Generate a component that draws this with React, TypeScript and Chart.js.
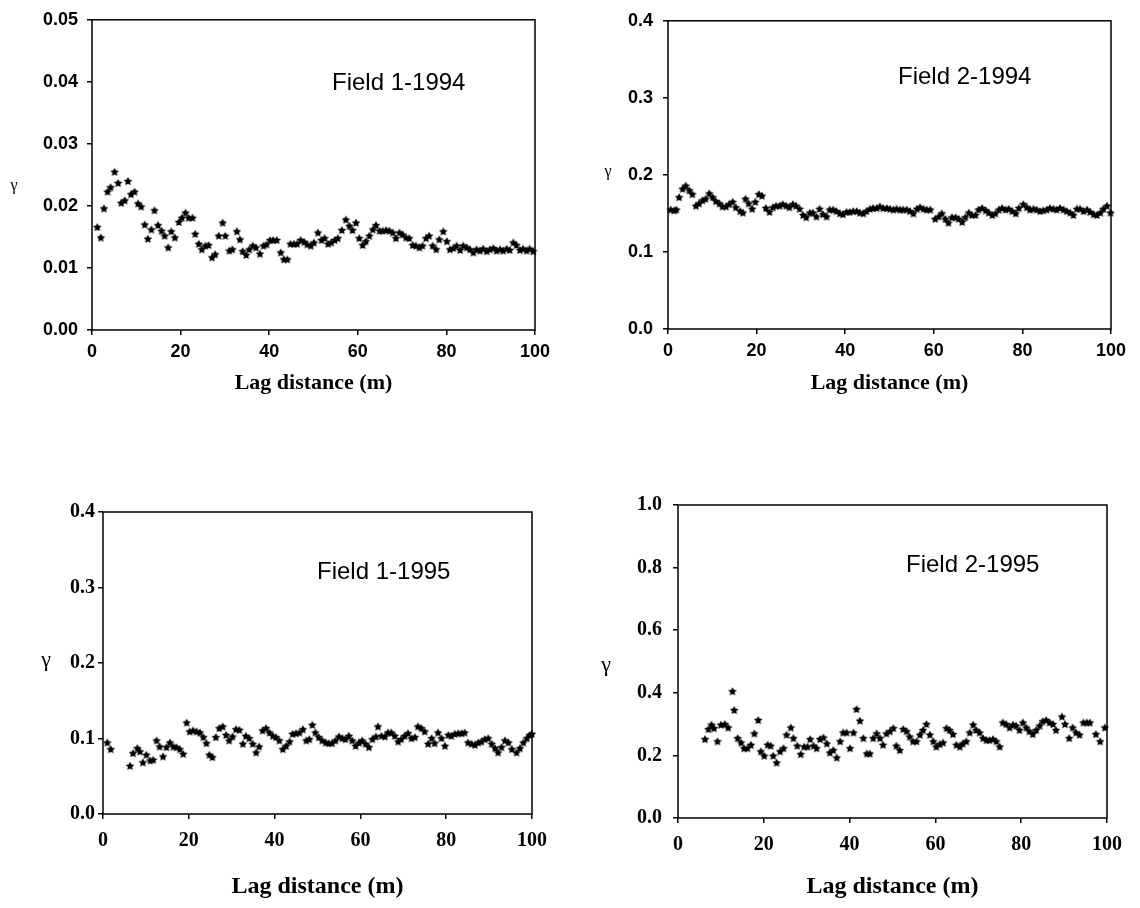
import React, { useEffect, useRef } from "react";
import { Chart, registerables } from "chart.js";

Chart.register(...registerables);

// ---------- DATA ----------
// Field 1-1994
const lag1 = [
  1.2, 2.0, 2.7, 3.5, 4.2, 5.1, 5.9, 6.6, 7.4, 8.1,
  8.8, 9.6, 10.4, 11.1, 11.9, 12.6, 13.4, 14.1, 14.9, 15.7,
  16.4, 17.2, 17.9, 18.7, 19.6, 20.3, 21.1, 21.8, 22.7, 23.3,
  24.1, 24.8, 25.6, 26.3, 27.1, 27.8, 28.6, 29.5, 30.1, 31.0,
  31.7, 32.7, 33.4, 34.0, 34.8, 35.5, 36.3, 37.0, 37.9, 38.7,
  39.4, 40.2, 40.9, 41.7, 42.6, 43.3, 44.1, 44.8, 45.6, 46.3,
  47.1, 47.9, 48.6, 49.4, 50.1, 51.0, 51.8, 52.5, 53.3, 54.0,
  54.8, 55.5, 56.4, 57.3, 58.1, 58.8, 59.6, 60.3, 61.1, 61.8,
  62.6, 63.4, 64.1, 64.9, 65.6, 66.4, 67.1, 67.9, 68.6, 69.4,
  70.1, 70.9, 71.6, 72.4, 73.1, 73.9, 74.6, 75.4, 76.1, 76.9,
  77.7, 78.4, 79.3, 80.1, 80.8, 81.6, 82.3, 83.1, 83.8, 84.6,
  85.3, 86.1, 86.8, 87.6, 88.3, 89.1, 89.8, 90.6, 91.3, 92.1,
  92.8, 93.6, 94.3, 95.1, 95.8, 96.6, 97.3, 98.1, 98.8, 99.6,
];
const gamma1 = [
  0.0166, 0.0149, 0.0196, 0.0223, 0.0230, 0.0255, 0.0237, 0.0205, 0.0209, 0.0240,
  0.0219, 0.0223, 0.0204, 0.0199, 0.0170, 0.0147, 0.0162, 0.0193, 0.0169, 0.0160,
  0.0152, 0.0133, 0.0159, 0.0149, 0.0174, 0.0181, 0.0189, 0.0181, 0.0181, 0.0155,
  0.0139, 0.0130, 0.0136, 0.0137, 0.0117, 0.0122, 0.0152, 0.0173, 0.0152, 0.0128,
  0.0130, 0.0159, 0.0146, 0.0127, 0.0121, 0.0130, 0.0136, 0.0133, 0.0123, 0.0136,
  0.0138, 0.0145, 0.0145, 0.0145, 0.0125, 0.0114, 0.0114, 0.0139, 0.0139, 0.0139,
  0.0145, 0.0142, 0.0138, 0.0136, 0.0141, 0.0157, 0.0145, 0.0148, 0.0139, 0.0141,
  0.0145, 0.0148, 0.0161, 0.0178, 0.0168, 0.0161, 0.0173, 0.0148, 0.0137, 0.0143,
  0.0152, 0.0162, 0.0169, 0.0160, 0.0160, 0.0161, 0.0160, 0.0157, 0.0148, 0.0157,
  0.0154, 0.0149, 0.0148, 0.0137, 0.0136, 0.0133, 0.0136, 0.0148, 0.0152, 0.0136,
  0.0130, 0.0146, 0.0159, 0.0143, 0.0130, 0.0132, 0.0136, 0.0129, 0.0136, 0.0133,
  0.0130, 0.0125, 0.0130, 0.0128, 0.0131, 0.0127, 0.0130, 0.0132, 0.0128, 0.0130,
  0.0128, 0.0131, 0.0129, 0.0141, 0.0137, 0.0129, 0.0131, 0.0128, 0.0131, 0.0127,
];

// Field 2-1994
const lag2 = [
  0.6, 1.4, 1.9, 2.5, 3.3, 4.0, 4.8, 5.5, 6.3, 7.0,
  7.8, 8.5, 9.3, 10.1, 10.8, 11.6, 12.3, 13.1, 13.8, 14.6,
  15.3, 16.3, 16.9, 17.5, 18.2, 19.0, 19.7, 20.5, 21.2, 22.1,
  22.9, 23.7, 24.4, 25.2, 25.9, 26.7, 27.4, 28.2, 28.9, 29.7,
  30.5, 31.2, 32.0, 32.7, 33.5, 34.2, 35.0, 35.8, 36.5, 37.3,
  38.0, 38.8, 39.5, 40.3, 41.0, 41.8, 42.6, 43.3, 44.1, 44.8,
  45.6, 46.3, 47.1, 47.8, 48.6, 49.4, 50.1, 50.9, 51.6, 52.4,
  53.1, 53.9, 54.6, 55.4, 56.2, 56.9, 57.7, 58.4, 59.2, 60.3,
  61.1, 61.8, 62.6, 63.3, 64.1, 64.9, 65.6, 66.4, 67.1, 67.9,
  68.6, 69.4, 70.1, 70.9, 71.7, 72.4, 73.2, 73.9, 74.7, 75.4,
  76.2, 76.9, 77.7, 78.5, 79.2, 80.2, 81.0, 81.7, 82.5, 83.2,
  84.0, 84.7, 85.5, 86.2, 87.0, 87.7, 88.5, 89.3, 90.0, 90.8,
  91.5, 92.3, 93.0, 93.8, 94.6, 95.3, 96.1, 96.8, 97.6, 98.3,
  99.1, 99.9,
];
const gamma2 = [
  0.155, 0.154, 0.155, 0.171, 0.182, 0.186, 0.180, 0.175, 0.160, 0.163,
  0.167, 0.169, 0.176, 0.171, 0.166, 0.163, 0.159, 0.159, 0.162, 0.165,
  0.158, 0.153, 0.151, 0.169, 0.163, 0.156, 0.165, 0.175, 0.173, 0.157,
  0.152, 0.158, 0.160, 0.160, 0.162, 0.160, 0.158, 0.162, 0.160, 0.156,
  0.148, 0.145, 0.151, 0.151, 0.146, 0.156, 0.149, 0.146, 0.155, 0.155,
  0.153, 0.150, 0.149, 0.152, 0.152, 0.153, 0.153, 0.151, 0.150, 0.153,
  0.156, 0.157, 0.157, 0.159, 0.157, 0.157, 0.156, 0.155, 0.156, 0.155,
  0.155, 0.155, 0.153, 0.150, 0.156, 0.158, 0.156, 0.155, 0.155, 0.143,
  0.146, 0.150, 0.143, 0.138, 0.145, 0.145, 0.143, 0.139, 0.145, 0.151,
  0.148, 0.148, 0.155, 0.157, 0.154, 0.151, 0.148, 0.150, 0.155, 0.157,
  0.155, 0.156, 0.153, 0.150, 0.157, 0.162, 0.158, 0.155, 0.156, 0.155,
  0.153, 0.154, 0.155, 0.157, 0.156, 0.155, 0.157, 0.155, 0.153, 0.151,
  0.148, 0.156, 0.156, 0.153, 0.155, 0.152, 0.149, 0.148, 0.151, 0.156,
  0.160, 0.151,
];

// Field 1-1995
const lag3 = [
  1.0, 1.8, 6.3, 7.0, 8.0, 8.6, 9.3, 10.1, 11.0, 11.7,
  12.5, 13.2, 14.0, 14.8, 15.6, 16.4, 17.1, 17.9, 18.7, 19.5,
  20.2, 21.0, 21.8, 22.6, 23.4, 24.1, 24.8, 25.5, 26.3, 27.1,
  27.9, 28.7, 29.4, 30.2, 31.0, 31.8, 32.6, 33.3, 34.1, 34.9,
  35.7, 36.4, 37.2, 38.0, 38.8, 39.6, 40.3, 41.1, 41.9, 42.7,
  43.5, 44.2, 45.0, 45.8, 46.6, 47.4, 48.1, 48.8, 49.5, 50.3,
  51.1, 51.9, 52.6, 53.4, 54.2, 55.0, 55.8, 56.5, 57.3, 58.1,
  58.9, 59.7, 60.4, 61.2, 62.0, 62.8, 63.6, 64.1, 64.9, 65.7,
  66.4, 67.2, 68.0, 68.8, 69.5, 70.3, 71.1, 71.9, 72.7, 73.4,
  74.2, 75.0, 75.8, 76.6, 77.3, 78.1, 78.9, 79.7, 80.5, 81.2,
  82.0, 82.8, 83.6, 84.3, 85.1, 85.9, 86.7, 87.5, 88.2, 89.0,
  89.8, 90.6, 91.4, 92.1, 92.9, 93.7, 94.5, 95.3, 96.4, 97.2,
  98.0, 98.8, 99.5, 100.0,
];
const gamma3 = [
  0.0947, 0.0859, 0.0639, 0.0806, 0.0872, 0.0828, 0.0683, 0.0784, 0.0709, 0.0718,
  0.0974, 0.0894, 0.0762, 0.0885, 0.0947, 0.0894, 0.0885, 0.0859, 0.0797, 0.1211,
  0.1093, 0.1106, 0.1093, 0.1079, 0.1018, 0.0938, 0.0784, 0.0753, 0.1018, 0.1137,
  0.1159, 0.1048, 0.0974, 0.1026, 0.1123, 0.1115, 0.0930, 0.1035, 0.1004, 0.0930,
  0.0815, 0.0894, 0.1106, 0.1137, 0.1079, 0.1035, 0.1018, 0.0974, 0.0859, 0.0903,
  0.0960, 0.1062, 0.1070, 0.1079, 0.1123, 0.0974, 0.0991, 0.1181, 0.1079, 0.1018,
  0.0974, 0.0947, 0.0938, 0.0938, 0.0974, 0.1026, 0.1004, 0.0991, 0.1035, 0.0974,
  0.0903, 0.0947, 0.0974, 0.0930, 0.0885, 0.0991, 0.1026, 0.1159, 0.1035, 0.1026,
  0.1079, 0.1079, 0.1035, 0.0960, 0.0991, 0.1035, 0.1070, 0.1004, 0.1018, 0.1159,
  0.1137, 0.1093, 0.0930, 0.1004, 0.0938, 0.1079, 0.1004, 0.0903, 0.1048, 0.1035,
  0.1062, 0.1070, 0.1070, 0.1079, 0.0947, 0.0930, 0.0916, 0.0947, 0.0960, 0.0991,
  0.1004, 0.0930, 0.0872, 0.0815, 0.0885, 0.0974, 0.0947, 0.0859, 0.0815, 0.0872,
  0.0947, 0.1004, 0.1048, 0.1062,
];

// Field 2-1995
const lag4 = [
  6.3, 7.1, 7.8, 8.4, 9.2, 10.0, 10.9, 11.7, 12.7, 13.1,
  13.9, 14.7, 15.4, 16.2, 17.0, 17.8, 18.7, 19.3, 20.1, 20.9,
  21.6, 22.2, 23.0, 23.8, 24.6, 25.3, 26.3, 26.9, 27.8, 28.6,
  29.4, 30.2, 30.8, 31.6, 32.3, 33.1, 33.9, 34.7, 35.4, 36.2,
  37.0, 37.8, 38.5, 39.3, 40.1, 40.9, 41.6, 42.4, 43.2, 44.0,
  44.7, 45.5, 46.3, 47.1, 47.8, 48.6, 49.4, 50.2, 50.9, 51.7,
  52.5, 53.3, 54.0, 54.8, 55.6, 56.4, 57.1, 57.9, 58.7, 59.5,
  60.2, 61.0, 61.8, 62.6, 63.3, 64.1, 64.9, 65.7, 66.4, 67.2,
  68.0, 68.8, 69.5, 70.3, 71.1, 71.9, 72.6, 73.4, 74.2, 75.0,
  75.7, 76.5, 77.3, 78.1, 78.8, 79.6, 80.4, 81.2, 81.9, 82.7,
  83.5, 84.3, 85.0, 85.8, 86.6, 87.4, 88.1, 89.5, 90.2, 91.2,
  92.0, 92.8, 93.6, 94.5, 95.3, 96.0, 97.4, 98.4, 99.5,
];
const gamma4 = [
  0.252, 0.284, 0.298, 0.287, 0.245, 0.298, 0.300, 0.289, 0.405, 0.345,
  0.255, 0.241, 0.223, 0.223, 0.234, 0.270, 0.313, 0.213, 0.199, 0.234,
  0.231, 0.199, 0.177, 0.213, 0.223, 0.266, 0.289, 0.255, 0.231, 0.204,
  0.228, 0.228, 0.252, 0.231, 0.223, 0.252, 0.257, 0.238, 0.209, 0.217,
  0.193, 0.245, 0.273, 0.273, 0.223, 0.273, 0.348, 0.311, 0.255, 0.206,
  0.206, 0.255, 0.270, 0.255, 0.234, 0.270, 0.277, 0.287, 0.231, 0.217,
  0.284, 0.277, 0.260, 0.245, 0.245, 0.266, 0.281, 0.300, 0.266, 0.245,
  0.228, 0.236, 0.241, 0.287, 0.281, 0.268, 0.234, 0.228, 0.238, 0.245,
  0.273, 0.298, 0.281, 0.273, 0.255, 0.249, 0.249, 0.252, 0.245, 0.228,
  0.305, 0.300, 0.289, 0.298, 0.295, 0.281, 0.305, 0.289, 0.277, 0.268,
  0.281, 0.295, 0.309, 0.313, 0.305, 0.300, 0.281, 0.324, 0.300, 0.255,
  0.289, 0.273, 0.266, 0.305, 0.305, 0.305, 0.268, 0.245, 0.289,
];

// ticks & labels
const xTickValues = [0, 20, 40, 60, 80, 100];
const xTickLabels = ["0", "20", "40", "60", "80", "100"];
const yTickValues1 = [0, 0.01, 0.02, 0.03, 0.04, 0.05];
const yTickLabels1 = ["0.00", "0.01", "0.02", "0.03", "0.04", "0.05"];
const yTickValues2 = [0, 0.1, 0.2, 0.3, 0.4];
const yTickLabels2 = ["0.0", "0.1", "0.2", "0.3", "0.4"];
const yTickValues4 = [0, 0.2, 0.4, 0.6, 0.8, 1.0];
const yTickLabels4 = ["0.0", "0.2", "0.4", "0.6", "0.8", "1.0"];

const panelLabels = ["Field 1-1994", "Field 2-1994", "Field 1-1995", "Field 2-1995"];
const X_TITLE = "Lag distance (m)";
const Y_TITLE = "γ";

// ---------- STYLE ----------
const SANS = '"Liberation Sans", Arial, Helvetica, sans-serif';
const SERIF = '"Liberation Serif", "Times New Roman", Times, serif';

type Spec = {
  lags: number[];
  gammas: number[];
  yMax: number;
  yTicks: number[];
  yLabels: string[];
  label: string;
  box: [number, number, number, number]; // canvas left, top, width, height
  area: [number, number, number, number]; // plot left, top, right, bottom
  tickFamily: string;
  tickSize: number;
  yPad: number;
  xPad: number;
  titleSize: number;
  titleY: number;
  labelPos: [number, number];
  labelSize: number;
  gammaPos: [number, number];
  gammaSize: number;
};

const specs: Spec[] = [
  {
    lags: lag1, gammas: gamma1, yMax: 0.05, yTicks: yTickValues1, yLabels: yTickLabels1,
    label: panelLabels[0], box: [0, 0, 570, 420], area: [92, 17, 535, 330],
    tickFamily: SANS, tickSize: 18, yPad: 9, xPad: 6, titleSize: 22, titleY: 383,
    labelPos: [332, 83], labelSize: 24, gammaPos: [14, 186], gammaSize: 16,
  },
  {
    lags: lag2, gammas: gamma2, yMax: 0.4, yTicks: yTickValues2, yLabels: yTickLabels2,
    label: panelLabels[1], box: [580, 0, 560, 420], area: [668, 18, 1111, 329],
    tickFamily: SANS, tickSize: 18, yPad: 10, xPad: 6, titleSize: 22, titleY: 383,
    labelPos: [898, 77], labelSize: 24, gammaPos: [608, 172], gammaSize: 16,
  },
  {
    lags: lag3, gammas: gamma3, yMax: 0.4, yTicks: yTickValues2, yLabels: yTickLabels2,
    label: panelLabels[2], box: [0, 440, 570, 468], area: [103, 512, 532, 814],
    tickFamily: SERIF, tickSize: 20, yPad: 3, xPad: 10, titleSize: 24, titleY: 887,
    labelPos: [317, 572], labelSize: 24, gammaPos: [46, 660], gammaSize: 22,
  },
  {
    lags: lag4, gammas: gamma4, yMax: 1.0, yTicks: yTickValues4, yLabels: yTickLabels4,
    label: panelLabels[3], box: [580, 440, 560, 468], area: [678, 505, 1107, 818],
    tickFamily: SERIF, tickSize: 20, yPad: 11, xPad: 10, titleSize: 24, titleY: 887,
    labelPos: [906, 565], labelSize: 24, gammaPos: [606, 665], gammaSize: 22,
  },
];

function makeStar(): HTMLCanvasElement {
  const c = document.createElement("canvas");
  const s = 10;
  c.width = s;
  c.height = s;
  const ctx = c.getContext("2d")!;
  ctx.fillStyle = "#000";
  ctx.beginPath();
  for (let i = 0; i < 10; i++) {
    const r = i % 2 === 0 ? 4.5 : 2.3;
    const a = -Math.PI / 2 + (i * Math.PI) / 5;
    const px = s / 2 + r * Math.cos(a);
    const py = s / 2 + 0.4 + r * Math.sin(a);
    if (i === 0) ctx.moveTo(px, py);
    else ctx.lineTo(px, py);
  }
  ctx.closePath();
  ctx.fill();
  return c;
}

const notesPlugin = {
  id: "frameNotes",
  afterDraw(chart: any, _args: any, opts: any) {
    const { ctx, chartArea: a } = chart;
    ctx.save();
    ctx.strokeStyle = "#000";
    ctx.lineWidth = 1.5;
    ctx.strokeRect(a.left, a.top, a.right - a.left, a.bottom - a.top);
    ctx.fillStyle = "#000";
    ctx.textBaseline = "middle";
    ctx.textAlign = "left";
    ctx.font = `${opts.labelSize}px ${SANS}`;
    ctx.fillText(opts.label, opts.labelX, opts.labelY);
    ctx.textAlign = "center";
    ctx.font = `${opts.gammaSize}px ${SERIF}`;
    ctx.fillText(Y_TITLE, opts.gammaX, opts.gammaY);
    ctx.restore();
  },
};

function Panel({ spec }: { spec: Spec }) {
  const ref = useRef<HTMLCanvasElement>(null);
  const [cx, cy, cw, ch] = spec.box;
  const [L, T, R, B] = spec.area;

  useEffect(() => {
    if (!ref.current) return;
    const star = makeStar();
    const yw = L - cx;
    const xh = cy + ch - B;
    const padTop = T - cy;
    const padRight = cx + cw - R;
    const titlePadB = cy + ch - spec.titleY - spec.titleSize * 0.6;
    const tickFont = { family: spec.tickFamily, size: spec.tickSize, weight: "bold" as const };

    const chart = new Chart(ref.current, {
      type: "scatter",
      data: {
        datasets: [
          {
            data: spec.lags.map((x, i) => ({ x, y: spec.gammas[i] })),
            pointStyle: star as any,
            pointRadius: 4,
            showLine: false,
            clip: false as any,
          },
        ],
      },
      plugins: [notesPlugin as any],
      options: {
        animation: false,
        responsive: false,
        maintainAspectRatio: false,
        layout: { padding: { left: 0, top: padTop, right: padRight, bottom: 0 } },
        plugins: {
          legend: { display: false },
          tooltip: { enabled: false },
          frameNotes: {
            label: spec.label,
            labelX: spec.labelPos[0] - cx,
            labelY: spec.labelPos[1] - cy,
            labelSize: spec.labelSize,
            gammaX: spec.gammaPos[0] - cx,
            gammaY: spec.gammaPos[1] - cy,
            gammaSize: spec.gammaSize,
          },
        } as any,
        scales: {
          x: {
            type: "linear",
            min: 0,
            max: 100,
            afterBuildTicks: (s: any) => {
              s.ticks = xTickValues.map((v) => ({ value: v }));
            },
            afterFit: (s: any) => {
              s.height = xh;
            },
            ticks: {
              autoSkip: false,
              maxRotation: 0,
              padding: spec.xPad,
              color: "#000",
              font: tickFont,
              callback: (_v: any, i: number) => xTickLabels[i],
            },
            grid: {
              display: true,
              drawOnChartArea: false,
              drawTicks: true,
              tickLength: 5,
              color: "#000",
              lineWidth: 1.5,
            },
            border: { display: false },
            title: {
              display: true,
              text: X_TITLE,
              color: "#000",
              font: { family: SERIF, size: spec.titleSize, weight: "bold" },
              padding: { top: 0, bottom: titlePadB },
            },
          },
          y: {
            type: "linear",
            min: 0,
            max: spec.yMax,
            afterBuildTicks: (s: any) => {
              s.ticks = spec.yTicks.map((v) => ({ value: v }));
            },
            afterFit: (s: any) => {
              s.width = yw;
            },
            ticks: {
              autoSkip: false,
              padding: spec.yPad,
              color: "#000",
              font: tickFont,
              callback: (_v: any, i: number) => spec.yLabels[i],
            },
            grid: {
              display: true,
              drawOnChartArea: false,
              drawTicks: true,
              tickLength: 5,
              color: "#000",
              lineWidth: 1.5,
            },
            border: { display: false },
          },
        },
      },
    });
    return () => chart.destroy();
  }, []);

  return (
    <canvas
      ref={ref}
      width={cw}
      height={ch}
      style={{ position: "absolute", left: cx, top: cy, width: cw, height: ch }}
    />
  );
}

export default function App() {
  return (
    <div
      style={{
        position: "absolute",
        left: 0,
        top: 0,
        width: 1140,
        height: 908,
        background: "#fff",
        overflow: "hidden",
      }}
    >
      {specs.map((s, i) => (
        <Panel key={i} spec={s} />
      ))}
    </div>
  );
}
